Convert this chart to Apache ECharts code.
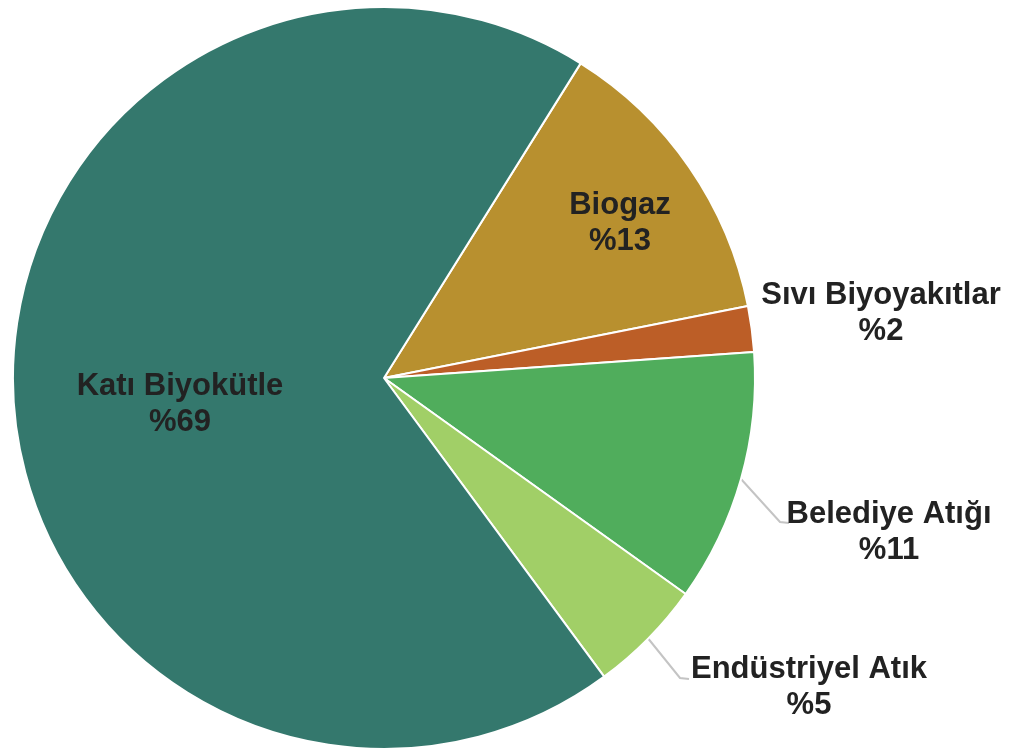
<!DOCTYPE html>
<html>
<head>
<meta charset="utf-8">
<script src="https://cdn.jsdelivr.net/npm/echarts@6/dist/echarts.min.js"></script>
<style>
  html, body { margin: 0; padding: 0; background: #ffffff; }
  #chart { width: 1011px; height: 756px; }
</style>
</head>
<body>
<div id="chart"></div>
<script>
// Biyoenerji kaynak payları (%)
const categories = ['Biogaz', 'Sıvı Biyoyakıtlar', 'Belediye Atığı', 'Endüstriyel Atık', 'Katı Biyokütle'];
const shares = [13, 2, 11, 5, 69];
const sliceColors = ['#B8902F', '#BC5E27', '#50AD5C', '#A1CF67', '#34786D'];

// Etiket yerleşimi (piksel): metin merkezi ve bağlantı çizgisinin kırılma noktaları
const labelSpots = [
  { x: 620, y: 223, inside: true },
  { x: 881, y: 313, line: false },
  { x: 889, y: 532, bend: [780, 522], end: [789, 523] },
  { x: 809, y: 687, bend: [680, 678], end: [689, 679] },
  { x: 180, y: 404, inside: true }
];

const chart = echarts.init(document.getElementById('chart'), null, { renderer: 'canvas' });

const data = categories.map((name, i) => {
  const spot = labelSpots[i];
  return {
    name: name,
    value: shares[i],
    itemStyle: { color: sliceColors[i] },
    label: { position: spot.inside ? 'inside' : 'outside' },
    labelLine: { show: !spot.inside && spot.line !== false }
  };
});

chart.setOption({
  animation: false,
  backgroundColor: '#ffffff',
  series: [{
    type: 'pie',
    center: [384, 378],
    radius: 371,
    startAngle: 58,
    clockwise: true,
    avoidLabelOverlap: false,
    data: data,
    itemStyle: { borderColor: '#ffffff', borderWidth: 2 },
    label: {
      show: true,
      formatter: '{b}\n%{c}',
      fontFamily: '"Liberation Sans", Arial, Helvetica, sans-serif',
      fontWeight: 'bold',
      fontSize: 31,
      lineHeight: 36,
      color: '#222222',
      align: 'center'
    },
    labelLine: {
      show: true,
      length: 20,
      length2: 10,
      lineStyle: { color: '#c4c4c4', width: 2 }
    },
    labelLayout: function (p) {
      const spot = labelSpots[p.dataIndex];
      const out = { x: spot.x, y: spot.y, align: 'center', verticalAlign: 'middle' };
      if (spot.bend && p.labelLinePoints && p.labelLinePoints.length) {
        out.labelLinePoints = [p.labelLinePoints[0], spot.bend, spot.end];
      }
      return out;
    }
  }]
});
</script>
</body>
</html>
